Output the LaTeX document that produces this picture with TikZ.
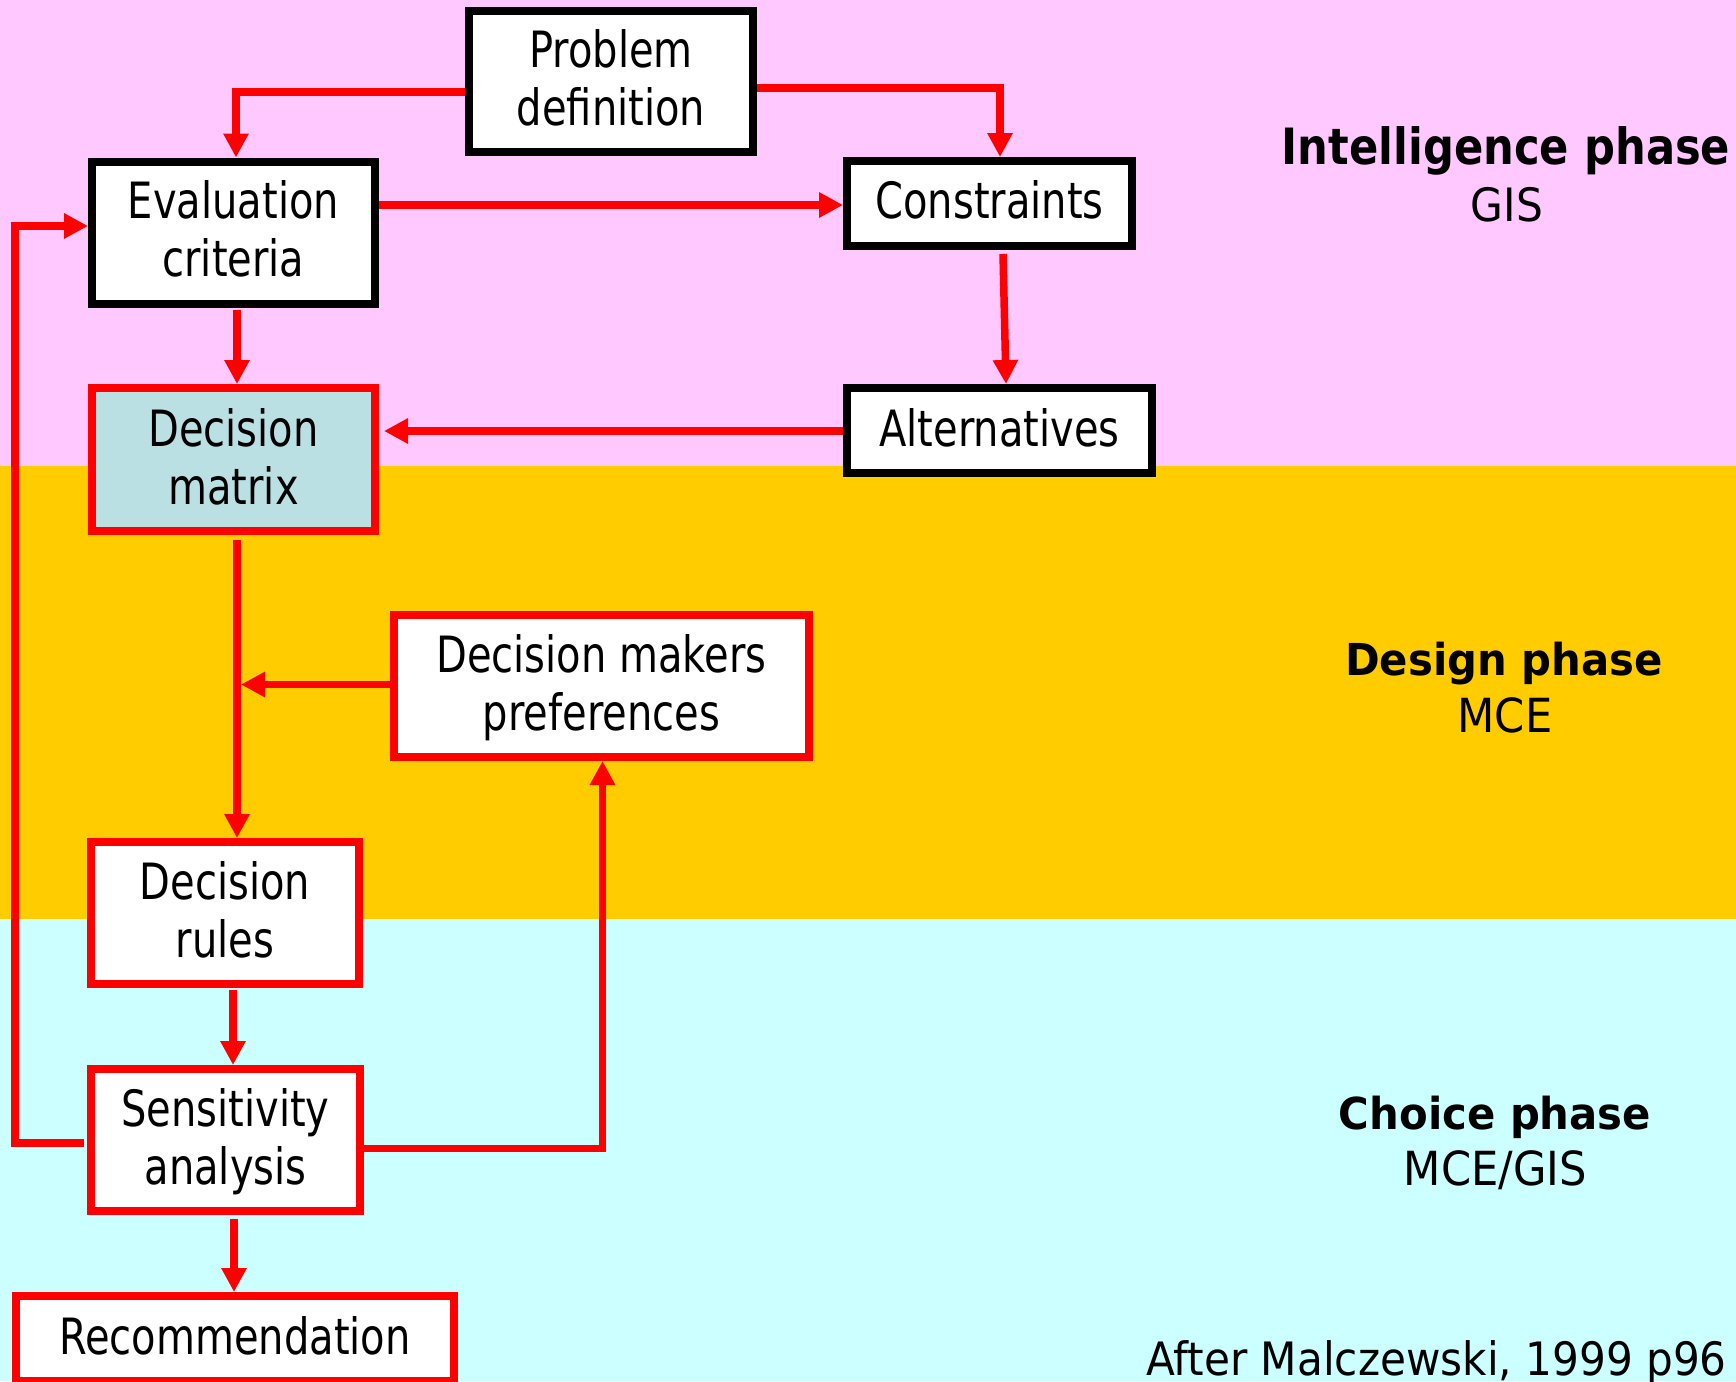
\documentclass[tikz,border=0pt]{standalone}
\usepackage{fontspec}
\setmainfont{DejaVu Sans}
\newfontfamily\boxfont[FakeStretch=0.8]{DejaVu Sans}
\newfontfamily\intfont[FakeStretch=0.865]{DejaVu Sans}
\newfontfamily\phfont[FakeStretch=0.95]{DejaVu Sans}
\newfontfamily\subfont[FakeStretch=0.92]{DejaVu Sans}
\newfontfamily\aftfont[FakeStretch=0.917]{DejaVu Sans}
\usetikzlibrary{arrows.meta,calc}
\definecolor{pinkbg}{RGB}{255,200,255}
\definecolor{yellowbg}{RGB}{255,204,0}
\definecolor{cyanbg}{RGB}{204,255,255}
\definecolor{dmfill}{RGB}{186,224,228}
\definecolor{arrred}{RGB}{255,0,0}
\tikzset{
  box/.style={draw=black, line width=8pt, fill=white, inner sep=0pt, outer sep=4pt,
    font=\boxfont\fontsize{50}{58}\selectfont, align=center, text depth=7pt},
  redbox/.style={box, draw=arrred},
  flow/.style={draw=arrred, line width=7.5pt, line join=miter,
    -{Triangle[length=24pt,width=24pt]}},
  phase/.style={anchor=base, inner sep=0pt, font=\phfont\bfseries\fontsize{44}{44}\selectfont},
  sub/.style={anchor=base, inner sep=0pt, font=\subfont\fontsize{47}{47}\selectfont}
}
\begin{document}
\begin{tikzpicture}[x=1pt,y=-1pt]
\useasboundingbox (0,0) rectangle (1736,1381);
\fill[pinkbg] (0,0) rectangle (1736,466);
\fill[yellowbg] (0,466) rectangle (1736,919);
\fill[cyanbg] (0,919) rectangle (1736,1381);

\node[box, minimum width=284pt, minimum height=141pt] (PD) at (611,81.5) {Problem\\definition};
\node[box, minimum width=283pt, minimum height=142pt] (EC) at (233.5,232.5) {Evaluation\\criteria};
\node[redbox, fill=dmfill, minimum width=283pt, minimum height=143pt] (DM) at (233.5,459.5) {Decision\\matrix};
\node[box, minimum width=285pt, minimum height=85pt] (CO) at (989.5,203.5) {Constraints};
\node[box, minimum width=305pt, minimum height=85pt] (AL) at (999.5,430.5) {Alternatives};
\node[redbox, minimum width=415pt, minimum height=142pt] (DMP) at (601.5,686) {Decision makers\\preferences};
\node[redbox, minimum width=268pt, minimum height=142pt] (DR) at (225,913) {Decision\\rules};
\node[redbox, minimum width=269pt, minimum height=142pt] (SA) at (225.5,1140) {Sensitivity\\analysis};
\node[redbox, minimum width=438pt, minimum height=85pt] (RE) at (235,1338.5) {Recommendation};

\draw[flow] ($(PD.west)+(0,10.5)$) -| ($(EC.north)+(2.5,0)$);
\draw[flow] ($(PD.east)+(0,6.5)$) -| ($(CO.north)+(10.5,0)$);
\draw[flow] ($(EC.east)+(0,-27.5)$) -- ($(CO.west)+(0,1.5)$);
\draw[flow] ($(EC.south)+(3.5,2)$) -- ($(DM.north)+(3.5,0)$);
\draw[flow] ($(CO.south)+(13.5,4)$) -- ($(AL.north)+(6.5,0)$);
\draw[flow] ($(AL.west)+(0,0.5)$) -- ($(DM.east)+(5,-28.5)$);
\draw[flow] ($(DM.south)+(3.5,5)$) -- ($(DR.north)+(12,0)$);
\draw[flow] ($(DMP.west)+(0,-1.5)$) -- ($(DMP.west -| DR.north)+(16,-1.5)$);
\draw[flow] ($(DR.south)+(8,2)$) -- ($(SA.north)+(7.5,0)$);
\draw[flow] ($(SA.east)+(0,8.5)$) -| ($(DMP.south)+(1,0)$);
\draw[flow] ($(SA.west)+(-3,3)$) -- ++(-69,0) |- ($(EC.west)+(0,-6.5)$);
\draw[flow] ($(SA.south)+(8.5,4)$) -- ($(RE.north)+(-1,0)$);

\node[anchor=base, inner sep=0pt, font=\intfont\bfseries\fontsize{50}{50}\selectfont] (int) at (1506,164) {Intelligence phase};
\node[sub, font=\subfont\fontsize{46}{46}\selectfont] (gis) at (1507,221) {GIS};
\node[phase] (des) at (1504,675) {Design phase};
\node[sub] (mce) at (1505,732) {MCE};
\node[phase] (cho) at (1495,1129) {Choice phase};
\node[sub] (mcegis) at (1495.5,1185) {MCE/GIS};
\node[anchor=base east, inner sep=0pt, font=\aftfont\fontsize{46}{46}\selectfont] (aft) at (1727,1375) {After Malczewski, 1999 p96};
\end{tikzpicture}
\end{document}
